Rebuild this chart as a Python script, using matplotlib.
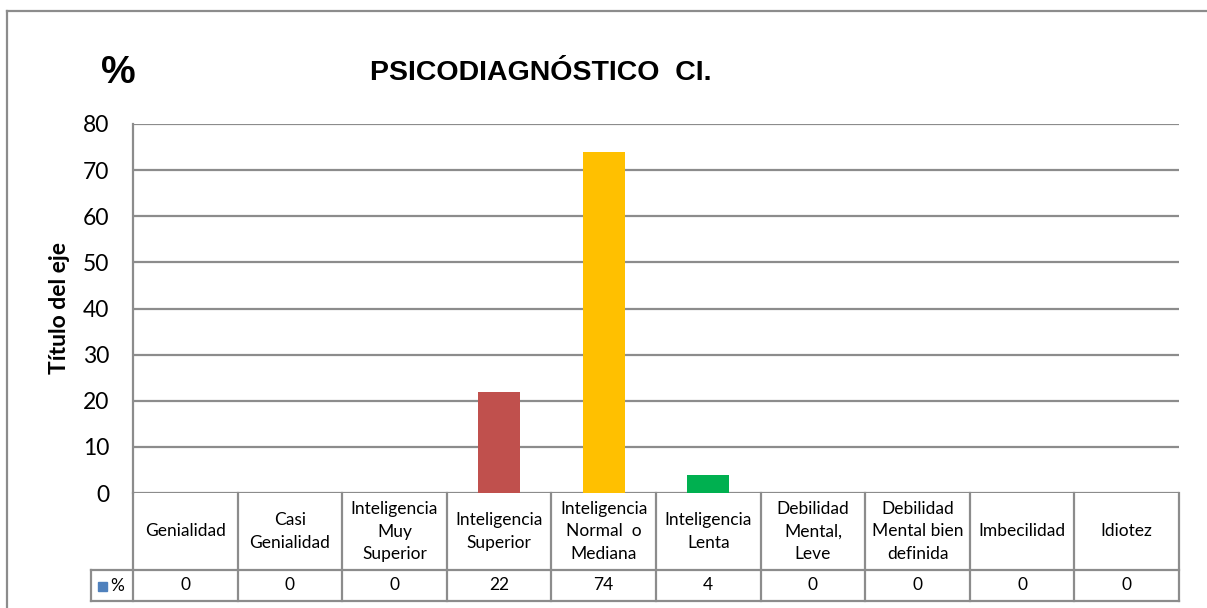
import matplotlib
matplotlib.use("Agg")
import matplotlib.pyplot as plt
from matplotlib.lines import Line2D
from matplotlib.patches import Rectangle

categories = ["Genialidad", "Casi\nGenialidad", "Inteligencia\nMuy\nSuperior",
              "Inteligencia\nSuperior", "Inteligencia\nNormal  o\nMediana",
              "Inteligencia\nLenta", "Debilidad\nMental,\nLeve",
              "Debilidad\nMental bien\ndefinida", "Imbecilidad", "Idiotez"]
values = [0, 0, 0, 22, 74, 4, 0, 0, 0, 0]
bar_colors = ["#4F81BD", "#4F81BD", "#4F81BD", "#C0504D", "#FFC000",
              "#00B050", "#4F81BD", "#4F81BD", "#4F81BD", "#4F81BD"]
yticks = [0, 10, 20, 30, 40, 50, 60, 70, 80]
series_name = "%"

W, H = 1207, 608
fig = plt.figure(figsize=(W / 100, H / 100), dpi=100)
BODY = "Lato"
GRID = "#8C8C8C"
TFS = 12.5

x0, x1, ytop, y0 = 133, 1179, 124, 493
ax = fig.add_axes([x0 / W, 1 - y0 / H, (x1 - x0) / W, (y0 - ytop) / H])
ax.set_xlim(0, len(categories))
ax.set_ylim(0, 80)
ax.set_yticks(yticks)
ax.set_yticklabels([str(v) for v in yticks], fontsize=16.5, family=BODY)
ax.tick_params(axis="y", length=0, pad=17)
ax.set_xticks([])
for s in ["top", "right", "bottom"]:
    ax.spines[s].set_visible(False)
ax.spines["left"].set_color(GRID)
ax.spines["left"].set_linewidth(1.6)
ax.yaxis.grid(True, color=GRID, linewidth=1.6)
ax.set_axisbelow(True)

xs = [i + 0.5 for i in range(len(categories))]
ax.bar(xs, values, width=0.4, color=bar_colors, zorder=3)

ax.set_ylabel("Título del eje", fontsize=16.5, fontweight="bold", family=BODY, labelpad=9)

# data table
ph = y0 - ytop
r1 = -(570 - y0) / ph
r2 = -(601 - y0) / ph
leg_x = (91 - x0) / ((x1 - x0) / len(categories))
lk = dict(color=GRID, linewidth=1.6, clip_on=False, transform=ax.get_xaxis_transform())
for i in range(len(categories) + 1):
    ax.add_line(Line2D([i, i], [0, r2], **lk))
ax.add_line(Line2D([leg_x, len(categories)], [r1, r1], **lk))
ax.add_line(Line2D([leg_x, len(categories)], [r2, r2], **lk))
ax.add_line(Line2D([leg_x, leg_x], [r1, r2], **lk))
tr = ax.get_xaxis_transform()
for xc, lab, v in zip(xs, categories, values):
    ax.text(xc, r1 / 2, lab, ha="center", va="center", fontsize=TFS, family=BODY,
            transform=tr, linespacing=1.5, clip_on=False)
    ax.text(xc, (r1 + r2) / 2, str(v), ha="center", va="center", fontsize=TFS,
            family=BODY, transform=tr, clip_on=False)
# legend key
fig.add_artist(Rectangle((98 / W, 1 - 591 / H), 9 / W, 9 / H, color="#4F81BD",
                         transform=fig.transFigure))
fig.text(110 / W, 1 - 586 / H, series_name, ha="left", va="center", fontsize=TFS, family=BODY)

# titles
fig.text(118 / W, 1 - 73 / H, "%", ha="center", va="center", fontsize=28,
         fontweight="bold", family="Liberation Sans")
fig.text(541 / W, 1 - 73 / H, "PSICODIAGNÓSTICO  CI.", ha="center", va="center",
         fontsize=20.5, fontweight="bold", family="Liberation Sans")

# outer chart border
bk = dict(color="#8C8C8C", linewidth=1.6, transform=fig.transFigure)
fig.add_artist(Line2D([7 / W, 7 / W], [0, 1 - 11 / H], **bk))
fig.add_artist(Line2D([7 / W, 1], [1 - 11 / H, 1 - 11 / H], **bk))

fig.savefig("out.png", dpi=100, facecolor="white")
